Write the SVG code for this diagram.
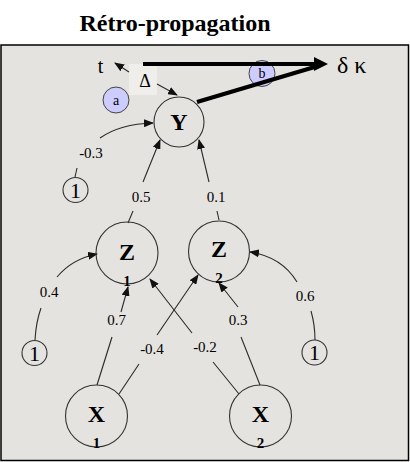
<svg xmlns="http://www.w3.org/2000/svg" width="410" height="462" viewBox="0 0 410 462">
<defs>
<marker id="ah" markerUnits="userSpaceOnUse" markerWidth="10" markerHeight="8" refX="9" refY="4" orient="auto">
<path d="M0,0 L10,4 L0,8 Z" fill="#111"/>
</marker>
</defs>
<style>
.c{fill:none;stroke:#2a2a2a;stroke-width:1.1}
.n{fill:none;stroke:#333;stroke-width:1.1}
.lb{font-family:"Liberation Serif",serif;font-size:15px;text-anchor:middle;fill:#000}
.nt{font-family:"Liberation Serif",serif;font-weight:bold;font-size:24px;text-anchor:middle;fill:#000}
.sb{font-family:"Liberation Serif",serif;font-weight:bold;font-size:15px;text-anchor:middle;fill:#000}
.one{font-family:"Liberation Serif",serif;font-size:22px;text-anchor:middle;fill:#000}
.bub{fill:#ccccff;stroke:#444;stroke-width:1}
.bt{font-family:"Liberation Serif",serif;font-size:14px;text-anchor:middle;fill:#000}
.thick{fill:none;stroke:#000;stroke-width:4}
</style>
<text x="175" y="31" font-family="Liberation Serif, serif" font-weight="bold" font-size="24" text-anchor="middle">Rétro-propagation</text>
<rect x="1" y="45" width="407.5" height="415.5" fill="#e4e3df" stroke="#000" stroke-width="1.5"/>
<rect x="129" y="64" width="28" height="31" fill="#efeeeb"/>
<g id="bubble-a"><circle class="bub" cx="116" cy="100" r="13"/><text class="bt" x="116" y="105">a</text></g>
<g id="bubble-b"><circle class="bub" cx="262" cy="73.5" r="13"/><text class="bt" x="262" y="78">b</text></g>
<g id="connectors">
<path class="thick" d="M143,64 L316,64"/>
<path class="thick" d="M197,102 L318,66"/>
<polygon points="314,57 328,64 314,71" fill="#000"/>
<path class="c" d="M129,72 L115,63" marker-end="url(#ah)"/>
<path class="c" d="M157,84 L177,95" marker-end="url(#ah)"/>
<path class="c" d="M77,168 L75,177"/>
<path class="c" d="M100,138 Q120,124 153,123" marker-end="url(#ah)"/>
<path class="c" d="M128,223 L133,211"/>
<path class="c" d="M143,182 L160,140" marker-end="url(#ah)"/>
<path class="c" d="M219,220 L217,211"/>
<path class="c" d="M209,182 L199,140" marker-end="url(#ah)"/>
<path class="c" d="M35,340 Q36,322 41,308"/>
<path class="c" d="M57,277 Q72,259 97,254" marker-end="url(#ah)"/>
<path class="c" d="M315,340 Q315,325 311,311"/>
<path class="c" d="M297,282 Q282,257 250,252" marker-end="url(#ah)"/>
<path class="c" d="M97,385 L112,337"/>
<path class="c" d="M121,312 L128,287" marker-end="url(#ah)"/>
<path class="c" d="M119,394 L139,364"/>
<path class="c" d="M157,335 L198,275" marker-end="url(#ah)"/>
<path class="c" d="M239,394 L213,362"/>
<path class="c" d="M192,333 L150,279" marker-end="url(#ah)"/>
<path class="c" d="M260,385 L241,337"/>
<path class="c" d="M238,307 L219,283" marker-end="url(#ah)"/>
<text class="lb" x="91" y="158">-0.3</text>
<text class="lb" x="141" y="202">0.5</text>
<text class="lb" x="216" y="202">0.1</text>
<text class="lb" x="49" y="297">0.4</text>
<text class="lb" x="305" y="301">0.6</text>
<text class="lb" x="116.5" y="325">0.7</text>
<text class="lb" x="238" y="325">0.3</text>
<text class="lb" x="152" y="354">-0.4</text>
<text class="lb" x="205" y="352">-0.2</text>
</g>
<g id="t"><text x="100.5" y="73" font-family="Liberation Serif, serif" font-size="20" text-anchor="middle">t</text></g>
<g id="delta"><text x="145" y="87" font-family="Liberation Serif, serif" font-size="18" text-anchor="middle">Δ</text></g>
<g id="dk"><text x="337" y="73" font-family="Liberation Serif, serif" font-size="24">δ κ</text></g>
<g id="Y"><circle class="n" cx="179" cy="122" r="25"/><text class="nt" x="179" y="130">Y</text></g>
<g id="Z1"><circle class="n" cx="127" cy="253" r="31"/><text class="nt" x="127" y="260">Z</text><text class="sb" x="127" y="286">1</text></g>
<g id="Z2"><circle class="n" cx="219" cy="251.5" r="30.5"/><text class="nt" x="219" y="257">Z</text><text class="sb" x="219" y="283">2</text></g>
<g id="X1"><circle class="n" cx="96.5" cy="416" r="31"/><text class="nt" x="96.5" y="422">X</text><text class="sb" x="96.5" y="448">1</text></g>
<g id="X2"><circle class="n" cx="260.5" cy="416" r="31"/><text class="nt" x="260.5" y="422">X</text><text class="sb" x="260.5" y="448">2</text></g>
<g id="bias0"><circle class="n" cx="75.5" cy="190" r="12.5"/><text class="one" x="75.5" y="197.5">1</text></g>
<g id="bias1"><circle class="n" cx="34.5" cy="353" r="12.5"/><text class="one" x="34.5" y="360.5">1</text></g>
<g id="bias2"><circle class="n" cx="314.5" cy="352.5" r="12.5"/><text class="one" x="314.5" y="360">1</text></g>
</svg>
